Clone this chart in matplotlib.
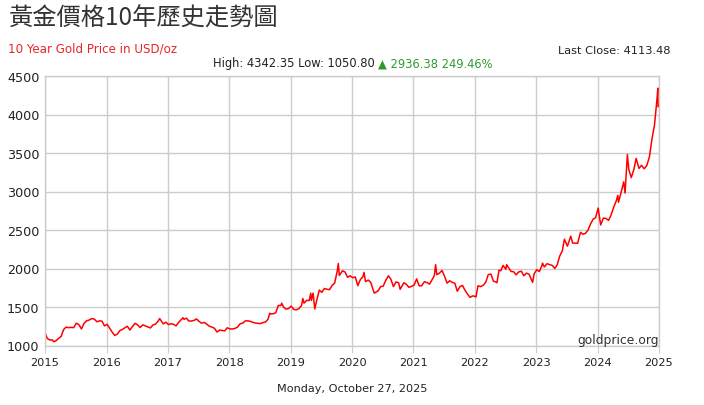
import matplotlib
matplotlib.use("Agg")
import matplotlib.pyplot as plt
import pandas as pd

plt.rcParams['font.family'] = ['DejaVu Sans']

title = "黃金價格10年歷史走勢圖"
subtitle = "10 Year Gold Price in USD/oz"
last_close = "Last Close: 4113.48"
stats_dark = "High: 4342.35 Low: 1050.80 "
stats_green = "▲ 2936.38 249.46%"
date_text = "Monday, October 27, 2025"
watermark = "goldprice.org"

dates = [
    "2015-10-27", "2015-11-10", "2015-11-25", "2015-12-10", "2015-12-17", "2015-12-31",
    "2016-01-15", "2016-01-31", "2016-02-15", "2016-02-29", "2016-03-15", "2016-03-31",
    "2016-04-15", "2016-04-30", "2016-05-15", "2016-05-31", "2016-06-15", "2016-06-30",
    "2016-07-15", "2016-07-31", "2016-08-15", "2016-08-31", "2016-09-15", "2016-09-30",
    "2016-10-15", "2016-10-31", "2016-11-15", "2016-11-30", "2016-12-15", "2016-12-31",
    "2017-01-15", "2017-01-31", "2017-02-15", "2017-02-28", "2017-03-15", "2017-03-31",
    "2017-04-15", "2017-04-30", "2017-05-15", "2017-05-31", "2017-06-15", "2017-06-30",
    "2017-07-15", "2017-07-31", "2017-08-15", "2017-08-31", "2017-09-08", "2017-09-30",
    "2017-10-15", "2017-10-31", "2017-11-15", "2017-11-30", "2017-12-15", "2017-12-31",
    "2018-01-15", "2018-01-25", "2018-01-31", "2018-02-15", "2018-02-28", "2018-03-15",
    "2018-03-31", "2018-04-15", "2018-04-30", "2018-05-15", "2018-05-31", "2018-06-15",
    "2018-06-30", "2018-07-15", "2018-07-31", "2018-08-15", "2018-08-31", "2018-09-15",
    "2018-09-30", "2018-10-15", "2018-10-31", "2018-11-15", "2018-11-30", "2018-12-15",
    "2018-12-31",
    "2019-01-15", "2019-01-31", "2019-02-15", "2019-02-28", "2019-03-15", "2019-03-31",
    "2019-04-15", "2019-04-30", "2019-05-15", "2019-05-31", "2019-06-15", "2019-06-25",
    "2019-06-30", "2019-07-15", "2019-07-31", "2019-08-15", "2019-08-31", "2019-09-04",
    "2019-09-15", "2019-09-30", "2019-10-15", "2019-10-31", "2019-11-15", "2019-11-30",
    "2019-12-15", "2019-12-31",
    "2020-01-08", "2020-01-15", "2020-01-31", "2020-02-15", "2020-02-24", "2020-02-28",
    "2020-03-09", "2020-03-19", "2020-03-31", "2020-04-15", "2020-04-30", "2020-05-15",
    "2020-05-31", "2020-06-15", "2020-06-30", "2020-07-15", "2020-07-31", "2020-08-06",
    "2020-08-12", "2020-08-31", "2020-09-15", "2020-09-30", "2020-10-15", "2020-10-31",
    "2020-11-15", "2020-11-30", "2020-12-15", "2020-12-31",
    "2021-01-06", "2021-01-15", "2021-01-31", "2021-02-15", "2021-02-28", "2021-03-08",
    "2021-03-31", "2021-04-15", "2021-04-30", "2021-05-15", "2021-05-31", "2021-06-15",
    "2021-06-30", "2021-07-15", "2021-07-31", "2021-08-09", "2021-08-31", "2021-09-15",
    "2021-09-30", "2021-10-15", "2021-10-31", "2021-11-15", "2021-11-30", "2021-12-15",
    "2021-12-31",
    "2022-01-15", "2022-01-31", "2022-02-15", "2022-02-28", "2022-03-08", "2022-03-15",
    "2022-03-31", "2022-04-15", "2022-04-30", "2022-05-15", "2022-05-31", "2022-06-15",
    "2022-06-30", "2022-07-15", "2022-07-31", "2022-08-15", "2022-08-31", "2022-09-15",
    "2022-09-28", "2022-10-15", "2022-10-31", "2022-11-03", "2022-11-15", "2022-11-30",
    "2022-12-15", "2022-12-31",
    "2023-01-15", "2023-01-31", "2023-02-15", "2023-02-28", "2023-03-08", "2023-03-20",
    "2023-03-31", "2023-04-13", "2023-04-30", "2023-05-04", "2023-05-15", "2023-05-31",
    "2023-06-15", "2023-06-30", "2023-07-15", "2023-07-31", "2023-08-15", "2023-08-31",
    "2023-09-15", "2023-09-30", "2023-10-06", "2023-10-15", "2023-10-31", "2023-11-15",
    "2023-11-30", "2023-12-04", "2023-12-15", "2023-12-31",
    "2024-01-15", "2024-01-31", "2024-02-15", "2024-02-29", "2024-03-15", "2024-03-31",
    "2024-04-12", "2024-04-30", "2024-05-20", "2024-05-31", "2024-06-15", "2024-06-30",
    "2024-07-17", "2024-07-31", "2024-08-15", "2024-08-31", "2024-09-15", "2024-09-30",
    "2024-10-15", "2024-10-30", "2024-11-14", "2024-11-30", "2024-12-15", "2024-12-31",
    "2025-01-15", "2025-01-31", "2025-02-15", "2025-02-24", "2025-02-28", "2025-03-15",
    "2025-03-31", "2025-04-08", "2025-04-22", "2025-04-30", "2025-05-15", "2025-05-31",
    "2025-06-13", "2025-06-30", "2025-07-15", "2025-07-31", "2025-08-15", "2025-08-31",
    "2025-09-15", "2025-09-30", "2025-10-08", "2025-10-15", "2025-10-20", "2025-10-22",
    "2025-10-27",
]

prices = [
    1166, 1090, 1072, 1072, 1050, 1061,
    1090, 1118, 1208, 1238, 1232, 1235,
    1232, 1290, 1272, 1215, 1287, 1320,
    1330, 1350, 1343, 1308, 1320, 1317,
    1255, 1275, 1225, 1173, 1130, 1150,
    1195, 1210, 1233, 1250, 1200, 1248,
    1288, 1268, 1233, 1268, 1255, 1242,
    1228, 1268, 1278, 1320, 1350, 1280,
    1303, 1271, 1283, 1275, 1255, 1303,
    1338, 1360, 1340, 1355, 1318, 1318,
    1325, 1345, 1315, 1290, 1300, 1278,
    1252, 1240, 1224, 1175, 1200, 1195,
    1190, 1230, 1215, 1215, 1222, 1238,
    1282,
    1290, 1320, 1320, 1315, 1302, 1292,
    1288, 1284, 1297, 1305, 1342, 1420,
    1410, 1412, 1425, 1520, 1520, 1550,
    1500, 1472, 1480, 1512, 1468, 1463,
    1478, 1517,
    1610, 1550, 1587, 1584, 1680, 1585,
    1680, 1475, 1590, 1720, 1690, 1740,
    1730, 1725, 1780, 1810, 1970, 2065,
    1910, 1970, 1955, 1886, 1905, 1880,
    1890, 1777, 1855, 1895,
    1950, 1830, 1850, 1820, 1730, 1680,
    1710, 1765, 1770, 1845, 1905, 1860,
    1765, 1825, 1815, 1730, 1815, 1795,
    1755, 1768, 1784, 1865, 1775, 1775,
    1828,
    1818, 1797, 1855, 1905, 2050, 1920,
    1940, 1975, 1900, 1810, 1840, 1820,
    1810, 1705, 1765, 1780, 1712, 1665,
    1625, 1645, 1635, 1630, 1775, 1765,
    1780, 1820,
    1920, 1928, 1835, 1827, 1815, 1980,
    1970, 2040, 1990, 2050, 2015, 1962,
    1958, 1918, 1955, 1965, 1905, 1940,
    1925, 1848, 1820, 1930, 1985, 1960,
    2035, 2070, 2020, 2063,
    2050, 2040, 2000, 2045, 2160, 2230,
    2380, 2290, 2420, 2330, 2330, 2328,
    2470, 2445, 2455, 2500, 2580, 2640,
    2660, 2785, 2565, 2655, 2650, 2625,
    2695, 2800, 2880, 2950, 2860, 2985,
    3125, 2980, 3480, 3290, 3180, 3290,
    3430, 3300, 3340, 3295, 3335, 3450,
    3680, 3860, 4040, 4200, 4342, 4100,
    4113,
]

tick_dates = ["2015-10-27", "2016-10-27", "2017-10-27", "2018-10-27", "2019-10-27",
              "2020-10-27", "2021-10-27", "2022-10-27", "2023-10-27", "2024-10-27",
              "2025-10-27"]
tick_labels = ["2015", "2016", "2017", "2018", "2019", "2020", "2021", "2022",
               "2023", "2024", "2025"]
y_ticks = [1000, 1500, 2000, 2500, 3000, 3500, 4000, 4500]

W, H = 704, 406
fig = plt.figure(figsize=(W / 100, H / 100), dpi=100)
ax = fig.add_axes([45 / W, 1 - 346.5 / H, (659 - 45) / W, (346.5 - 77) / H])

x = pd.to_datetime(dates)
ax.plot(x, prices, color="#ff0000", lw=1.1, solid_joinstyle="round")

ax.set_xlim(pd.Timestamp(tick_dates[0]), pd.Timestamp(tick_dates[-1]))
ax.set_ylim(1000, 4500)
ax.set_xticks(pd.to_datetime(tick_dates))
ax.set_xticklabels(tick_labels)
ax.set_yticks(y_ticks)
ax.grid(True, color="#cccccc", lw=1.0)
ax.set_axisbelow(True)
for s in ax.spines.values():
    s.set_color("#cccccc")
    s.set_linewidth(1.0)
ax.tick_params(axis="x", length=5, color="#cccccc", labelsize=8.2, labelcolor="#222222", pad=3)
ax.tick_params(axis="y", length=0, labelsize=9.2, labelcolor="#222222", pad=4)

fig.text(8 / W, 1 - 19 / H, title, fontsize=17.5, color="#333333", weight="medium",
         family=["Noto Sans CJK TC", "DejaVu Sans"], va="center", ha="left")
fig.text(8 / W, 1 - 49 / H, subtitle, fontsize=8.6, color="#e8262a", va="center", ha="left")
fig.text(671 / W, 1 - 51 / H, last_close, fontsize=8.2, color="#222222", va="center", ha="right")

t1 = fig.text(213 / W, 1 - 64 / H, stats_dark, fontsize=8.3, color="#222222", va="center", ha="left")
fig.canvas.draw()
bb = t1.get_window_extent()
fig.text(bb.x1 / W, 1 - 64 / H, stats_green, fontsize=8.3, color="#2e9a2e",
         va="center", ha="left", family=["DejaVu Sans"])

ax.text(1.0, 0.024, watermark, transform=ax.transAxes, fontsize=8.9, color="#333333",
        ha="right", va="center")
fig.text(352 / W, 1 - 389 / H, date_text, fontsize=8.1, color="#222222", ha="center", va="center")

fig.savefig("out.png", dpi=100)
